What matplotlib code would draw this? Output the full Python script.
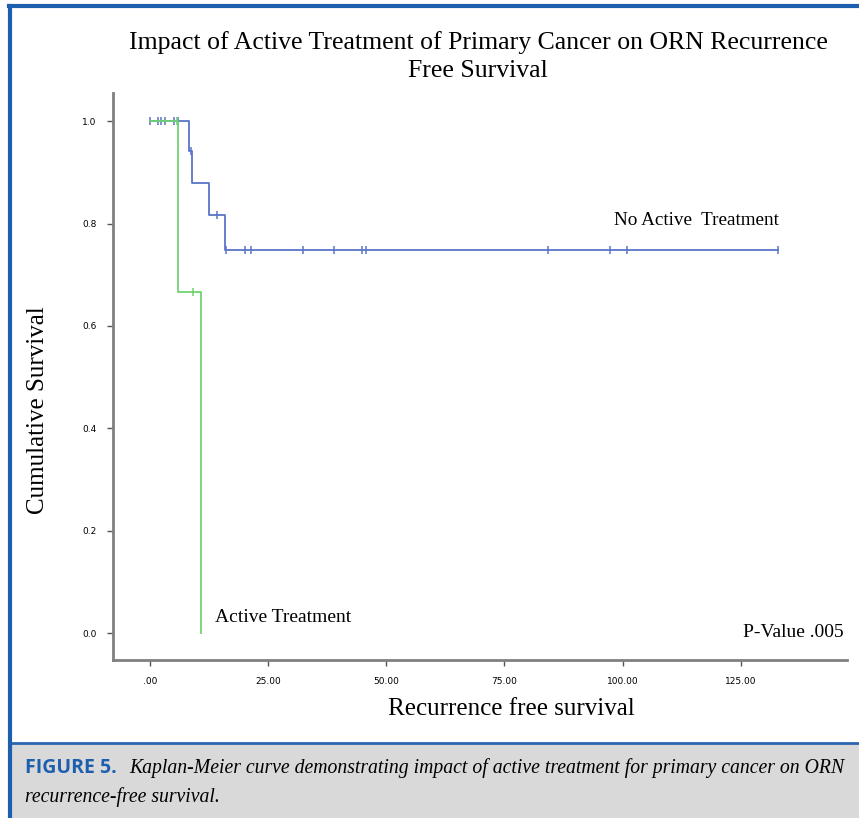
import numpy as np
import matplotlib.pyplot as plt
from matplotlib.patches import Rectangle
from matplotlib.lines import Line2D

# Kaplan-Meier curves
no_active_t = [0, 8.25, 8.8, 12.5, 15.9, 132.8]
no_active_s = [1.0, 0.942, 0.879, 0.816, 0.748, 0.748]
no_active_cens = [0, 1.6, 2.4, 3.2, 5.0, 6.0, 8.6, 14.2, 16.1, 20.1, 21.4,
                  32.4, 39.0, 44.8, 45.6, 84.2, 97.3, 100.9, 132.8]

active_t = [0, 6.0, 10.7]
active_s = [1.0, 0.667, 0.0]
active_cens = [5.7, 9.0]

xticks = [0, 25, 50, 75, 100, 125]
xticklabels = ['.00', '25.00', '50.00', '75.00', '100.00', '125.00']
yticks = [0.0, 0.2, 0.4, 0.6, 0.8, 1.0]

blue = '#5b74c8'
green = '#6fd36f'


def surv_at(times, surv, t):
    idx = np.searchsorted(times, t, side='right') - 1
    return np.array(surv)[idx]


W, H = 859, 818
fig = plt.figure(figsize=(W / 100, H / 100), dpi=100)
ax = fig.add_axes([113.3 / W, 1 - 660 / H, (846.7 - 113.3) / W, (660 - 93) / H])

ax.step(no_active_t, no_active_s, where='post', color=blue, lw=1.3)
ax.plot(no_active_cens, surv_at(no_active_t, no_active_s, no_active_cens),
        ls='none', marker='|', ms=6, mew=1.1, color=blue)
ax.step(active_t, active_s, where='post', color=green, lw=1.3)
ax.plot(active_cens, surv_at(active_t, active_s, active_cens),
        ls='none', marker='|', ms=6, mew=1.1, color=green)

ax.set_xlim(-7.76, 147.4)
ax.set_ylim(-0.0527, 1.055)
ax.set_xticks(xticks)
ax.set_xticklabels(xticklabels)
ax.set_yticks(yticks)
ax.set_yticklabels(['0.0', '0.2', '0.4', '0.6', '0.8', '1.0'])
ax.tick_params(labelsize=6.5, length=4, width=1, color='#555555', pad=8)
for sp in ['top', 'right']:
    ax.spines[sp].set_visible(False)
for sp in ['left', 'bottom']:
    ax.spines[sp].set_color('#808080')
    ax.spines[sp].set_linewidth(2)

serif = 'Liberation Serif'
ax.text(0.9077, 0.776, 'No Active  Treatment', transform=ax.transAxes,
        family=serif, fontsize=13.8, ha='right', va='center')
ax.text(0.139, 0.0758, 'Active Treatment', transform=ax.transAxes,
        family=serif, fontsize=14, ha='left', va='center')
ax.text(0.996, 0.049, 'P-Value .005', transform=ax.transAxes,
        family=serif, fontsize=14, ha='right', va='center')

fig.text(478 / W, 1 - 56.5 / H,
         'Impact of Active Treatment of Primary Cancer on ORN Recurrence\nFree Survival',
         family=serif, fontsize=18.5, ha='center', va='center', linespacing=1.3)
fig.text(38 / W, 1 - 410 / H, 'Cumulative Survival', family=serif, fontsize=18,
         rotation=90, ha='center', va='center')
fig.text(511 / W, 1 - 709 / H, 'Recurrence free survival', family=serif,
         fontsize=18, ha='center', va='center')

# frame and caption box
fig.add_artist(Rectangle((9 / W, 0), 1, (818 - 743) / H, transform=fig.transFigure,
                         facecolor='#d9d9d9', edgecolor='none', zorder=0))
fig.add_artist(Line2D([9 / W, 1], [1 - 743 / H] * 2, color='#2a66b0', lw=2))
fig.add_artist(Line2D([9 / W, 1], [1 - 6 / H] * 2, color='#1d5fae', lw=3))
fig.add_artist(Line2D([9.5 / W] * 2, [0, 1 - 6 / H], color='#1d5fae', lw=3))

fig.text(25 / W, 1 - 768 / H, 'FIGURE 5.', family='Open Sans', weight='bold',
         color='#1d5fae', fontsize=14, ha='left', va='center')
fig.text(129 / W, 1 - 768 / H,
         'Kaplan-Meier curve demonstrating impact of active treatment for primary cancer on ORN',
         family=serif, style='italic', fontsize=14.2, ha='left', va='center')
fig.text(25 / W, 1 - 797 / H, 'recurrence-free survival.', family=serif,
         style='italic', fontsize=14.2, ha='left', va='center')

fig.savefig('out.png', dpi=100)
